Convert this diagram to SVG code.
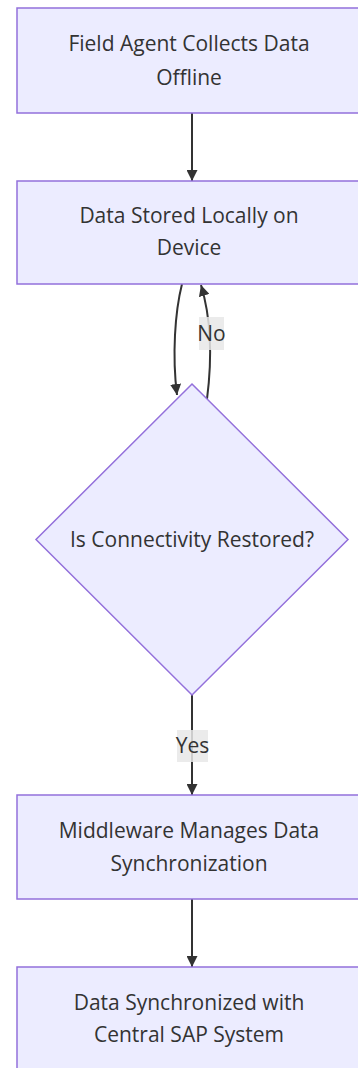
<svg xmlns="http://www.w3.org/2000/svg" width="358" height="1068" viewBox="0 0 358 1068">
<style>
.node rect, .node polygon { fill: #ECECFF; stroke: #9370DB; stroke-width: 1.5; }
.lbl { font-family: "Open Sans", "Liberation Sans", sans-serif; font-size: 21px; fill: #333333; text-anchor: middle; }
.edge { fill: none; stroke: #333333; stroke-width: 2; }
.ebg { fill: #e8e8e8; opacity: 0.85; }
</style>
<defs>
<marker id="arr" viewBox="0 0 10 10" refX="10" refY="5" markerUnits="userSpaceOnUse" markerWidth="11" markerHeight="11" orient="auto">
<path d="M0,0 L10,5 L0,10 z" fill="#333333"/>
</marker>
</defs>
<rect width="358" height="1068" fill="#ffffff"/>
<g id="edges">
<path class="edge" d="M192,113 L192,181" marker-end="url(#arr)"/>
<path class="edge" d="M182,284 C175,312 172,355 177,395" marker-end="url(#arr)"/>
<path class="edge" d="M207,399 C212,360 211,318 201,285" marker-end="url(#arr)"/>
<path class="edge" d="M192,695 L192,795" marker-end="url(#arr)"/>
<path class="edge" d="M192,899 L192,967" marker-end="url(#arr)"/>
</g>
<g id="n1" class="node">
<rect x="17" y="8" width="350" height="105"/>
<text class="lbl" x="189" y="51">Field Agent Collects Data</text>
<text class="lbl" x="189" y="85">Offline</text>
</g>
<g id="n2" class="node">
<rect x="17" y="181" width="350" height="103"/>
<text class="lbl" x="189" y="223">Data Stored Locally on</text>
<text class="lbl" x="189" y="255">Device</text>
</g>
<g id="n3" class="node">
<polygon points="192,384 348,539.5 192,695 36,539.5"/>
<text class="lbl" x="192" y="547">Is Connectivity Restored?</text>
</g>
<g id="n4" class="node">
<rect x="17" y="795" width="350" height="104"/>
<text class="lbl" x="189" y="838">Middleware Manages Data</text>
<text class="lbl" x="189" y="871">Synchronization</text>
</g>
<g id="n5" class="node">
<rect x="17" y="967" width="350" height="104"/>
<text class="lbl" x="189" y="1010">Data Synchronized with</text>
<text class="lbl" x="189" y="1042">Central SAP System</text>
</g>
<g id="elabels">
<rect class="ebg" x="199" y="317" width="25" height="33"/>
<text class="lbl" x="211.5" y="341">No</text>
<rect class="ebg" x="177" y="730" width="31" height="32"/>
<text class="lbl" x="192.5" y="753">Yes</text>
</g>
</svg>
